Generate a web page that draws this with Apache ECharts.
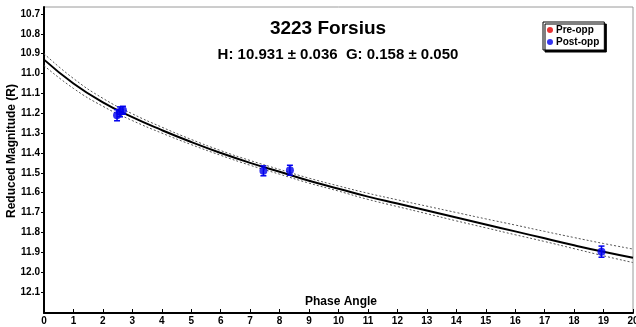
<!DOCTYPE html>
<html>
<head>
<meta charset="utf-8">
<title>3223 Forsius</title>
<script src="https://cdn.jsdelivr.net/npm/echarts@6/dist/echarts.min.js"></script>
<style>
  html, body { margin: 0; padding: 0; background: #fff; }
  #main { width: 636px; height: 327px; }
</style>
</head>
<body>
<div id="main"></div>
<script>
// phase-curve fit
var curvePhase = [0, 1, 2, 3, 4, 5, 6, 7, 8, 9, 10, 11, 12, 13, 14, 15, 16, 17, 18, 19, 20];
var curveMag   = [10.93, 11.05, 11.145, 11.22, 11.285, 11.345, 11.40, 11.45, 11.495, 11.54, 11.58,
                  11.62, 11.655, 11.69, 11.725, 11.76, 11.795, 11.83, 11.865, 11.898, 11.928];
var upperMag   = [10.90, 11.025, 11.125, 11.203, 11.27, 11.332, 11.388, 11.438, 11.483, 11.527, 11.566,
                  11.603, 11.636, 11.668, 11.70, 11.732, 11.763, 11.795, 11.826, 11.856, 11.884];
var lowerMag   = [10.96, 11.075, 11.165, 11.237, 11.30, 11.358, 11.412, 11.462, 11.507, 11.552, 11.592,
                  11.634, 11.67, 11.706, 11.742, 11.777, 11.812, 11.846, 11.882, 11.918, 11.952];

// observations (post-opposition only)
var obsPhase = [2.48, 2.58, 2.68, 7.45, 8.35, 18.93];
var obsMag   = [11.21, 11.193, 11.185, 11.49, 11.487, 11.897];
var obsErr   = [0.028, 0.025, 0.02, 0.025, 0.025, 0.028];

var yTicks = [10.7, 10.8, 10.9, 11.0, 11.1, 11.2, 11.3, 11.4, 11.5, 11.6, 11.7, 11.8, 11.9, 12.0, 12.1];

function pairs(xs, ys) {
  var out = [];
  for (var i = 0; i < xs.length; i++) out.push([xs[i], ys[i]]);
  return out;
}
var errData = [];
for (var i = 0; i < obsPhase.length; i++) {
  errData.push([obsPhase[i], obsMag[i] - obsErr[i], obsMag[i] + obsErr[i]]);
}

var chart = echarts.init(document.getElementById('main'));
var bold = { fontFamily: 'Liberation Sans, Arial, sans-serif', fontWeight: 'bold', color: '#000' };
var boldFont = 'Liberation Sans, Arial, sans-serif';

chart.setOption({
  animation: false,
  title: [
    {
      text: '3223 Forsius', left: 323, top: 14, textAlign: 'center',
      textStyle: Object.assign({ fontSize: 19 }, bold)
    },
    {
      text: 'H: 10.931 \u00b1 0.036  G: 0.158 \u00b1 0.050', left: 333, top: 42, textAlign: 'center',
      textStyle: Object.assign({ fontSize: 15 }, bold)
    }
  ],
  legend: {
    orient: 'vertical', left: 543, top: 22,
    data: ['Pre-opp', 'Post-opp'],
    icon: 'circle', itemWidth: 6, itemHeight: 6, itemGap: 2,
    padding: [3, 5, 3, 4],
    backgroundColor: '#fff', borderColor: '#000', borderWidth: 1,
    shadowColor: '#000', shadowOffsetX: 2, shadowOffsetY: 2, shadowBlur: 0,
    textStyle: Object.assign({ fontSize: 10, padding: [0, 0, 0, -2] }, bold)
  },
  grid: {
    left: 44, right: 3, top: 7, bottom: 14,
    outerBoundsMode: 'none', containLabel: false,
    show: true, borderColor: '#9a9a9a', borderWidth: 1
  },
  xAxis: {
    type: 'value', min: 0, max: 20, interval: 1,
    axisLine: { lineStyle: { color: '#000', width: 2 } },
    axisTick: { inside: true, length: 4, lineStyle: { color: '#000' } },
    axisLabel: Object.assign({ fontSize: 10, margin: 3 }, bold),
    splitLine: { show: false }
  },
  yAxis: {
    type: 'value', inverse: true, min: 10.665, max: 12.206,
    axisLine: { show: true, lineStyle: { color: '#000', width: 2 } },
    axisTick: { show: true, length: 3, customValues: yTicks, lineStyle: { color: '#000' } },
    axisLabel: Object.assign({
      fontSize: 10, margin: 4, customValues: yTicks,
      formatter: function (v) { return v.toFixed(1); }
    }, bold),
    splitLine: { show: false }
  },
  graphic: [
    {
      type: 'text', x: 305, y: 296,
      style: { text: 'Phase Angle', font: 'bold 12px ' + boldFont, fill: '#000' }
    },
    {
      type: 'text', x: 12, y: 151, rotation: Math.PI / 2,
      style: {
        text: 'Reduced Magnitude (R)', font: 'bold 12px ' + boldFont, fill: '#000',
        align: 'center', verticalAlign: 'middle'
      }
    }
  ],
  series: [
    {
      name: 'upper', type: 'line', data: pairs(curvePhase, upperMag), smooth: true,
      showSymbol: false, silent: true,
      lineStyle: { color: '#555', width: 1, type: [2, 2] }
    },
    {
      name: 'lower', type: 'line', data: pairs(curvePhase, lowerMag), smooth: true,
      showSymbol: false, silent: true,
      lineStyle: { color: '#555', width: 1, type: [2, 2] }
    },
    {
      name: 'fit', type: 'line', data: pairs(curvePhase, curveMag), smooth: true,
      showSymbol: false, silent: true,
      lineStyle: { color: '#000', width: 2 }
    },
    {
      name: 'errors', type: 'custom', data: errData, z: 5,
      renderItem: function (params, api) {
        var x = api.value(0);
        var top = api.coord([x, api.value(1)]);
        var bot = api.coord([x, api.value(2)]);
        var w = 3;
        var st = { stroke: '#0000ee', lineWidth: 1.5 };
        return {
          type: 'group',
          children: [
            { type: 'line', shape: { x1: top[0], y1: top[1], x2: bot[0], y2: bot[1] }, style: st },
            { type: 'line', shape: { x1: top[0] - w, y1: top[1], x2: top[0] + w, y2: top[1] }, style: st },
            { type: 'line', shape: { x1: bot[0] - w, y1: bot[1], x2: bot[0] + w, y2: bot[1] }, style: st }
          ]
        };
      }
    },
    {
      name: 'Pre-opp', type: 'scatter', data: [], itemStyle: { color: '#e00000' }
    },
    {
      name: 'Post-opp', type: 'scatter', data: pairs(obsPhase, obsMag), z: 6,
      symbol: 'circle', symbolSize: 8, itemStyle: { color: '#0000ee' }
    }
  ]
});
</script>
</body>
</html>
